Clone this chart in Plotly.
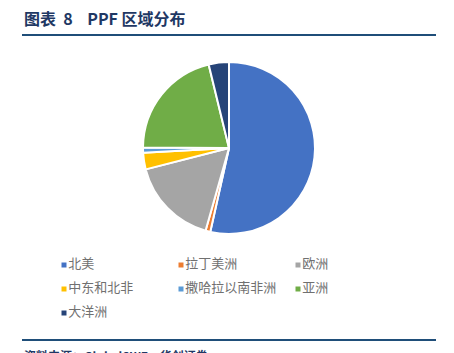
import plotly.graph_objects as go

categories = ["北美", "拉丁美洲", "欧洲", "中东和北非", "撒哈拉以南非洲", "亚洲", "大洋洲"]
values = [53.5, 0.9, 16.6, 3.1, 1.0, 21.1, 3.8]
colors = ["#4472C4", "#ED7D31", "#A5A5A5", "#FFC000", "#5B9BD5", "#70AD47", "#264478"]

W, H = 454, 353
FONT = "Noto Sans CJK SC"
NB = "\u00a0"

fig = go.Figure()

fig.add_trace(go.Pie(
    labels=categories, values=values, sort=False, direction="clockwise", rotation=0,
    marker=dict(colors=colors, line=dict(color="white", width=2)),
    textinfo="none", hoverinfo="label+percent", showlegend=False,
    domain=dict(x=[143 / W, 315 / W], y=[1 - 234 / H, 1 - 62 / H]),
))

# legend built as a scatter on hidden pixel axes
lx = [64 + (i % 3) * 117 for i in range(len(categories))]
ly = [265 + (i // 3) * 24 for i in range(len(categories))]
fig.add_trace(go.Scatter(
    x=lx, y=ly, mode="markers+text", text=categories, textposition="middle right",
    marker=dict(symbol="square", size=5, color=colors),
    textfont=dict(family=FONT, size=13, color="#707070"),
    showlegend=False, hoverinfo="skip", cliponaxis=False,
))

title = "<b>图表" + NB * 2 + "8" + NB * 4 + "PPF" + NB + "区域分布</b>"

fig.update_layout(
    width=W, height=H, margin=dict(l=0, r=0, t=0, b=0),
    paper_bgcolor="white", plot_bgcolor="white",
    xaxis=dict(range=[0, W], visible=False, fixedrange=True),
    yaxis=dict(range=[H, 0], visible=False, fixedrange=True),
    showlegend=False,
    shapes=[
        dict(type="line", xref="x", yref="y", x0=22, x1=436, y0=35, y1=35,
             line=dict(color="#1F4E79", width=2)),
        dict(type="line", xref="x", yref="y", x0=22, x1=436, y0=340, y1=340,
             line=dict(color="#1F4E79", width=2)),
    ],
    annotations=[
        dict(text=title, x=22, y=18, xref="x", yref="y",
             xanchor="left", yanchor="middle", showarrow=False,
             font=dict(family=FONT, size=16, color="#1F3864")),
        dict(text="<b>资料来源：GlobalSWF，华创证券</b>", x=22, y=345, xref="x", yref="y",
             xanchor="left", yanchor="top", showarrow=False,
             font=dict(family=FONT, size=12, color="#1F3864")),
    ],
)

fig.write_html("out.html")
